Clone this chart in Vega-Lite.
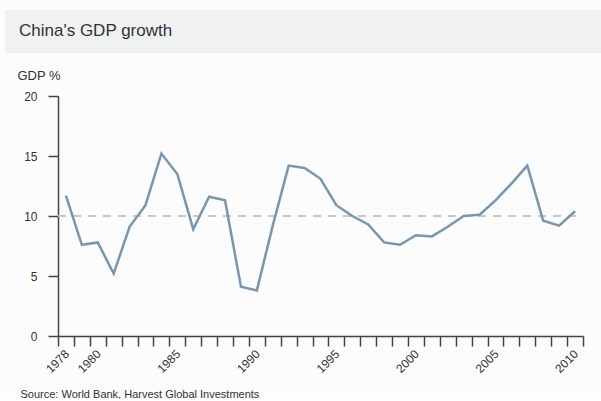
{
  "$schema": "https://vega.github.io/schema/vega-lite/v6.json",
  "background": "#fbfcfb",
  "padding": {"left": 5, "top": 10, "right": 0, "bottom": 0},
  "spacing": 0,
  "config": {
    "view": {"stroke": null},
    "font": "Liberation Sans"
  },
  "vconcat": [
    {
      "width": 596,
      "height": 43,
      "view": {"fill": "#f0f1f1", "stroke": null},
      "title": {
        "text": "China's GDP growth",
        "anchor": "start",
        "frame": "group",
        "orient": "top",
        "offset": -43,
        "dx": 14,
        "baseline": "alphabetic",
        "font": "Liberation Sans",
        "fontSize": 17,
        "fontWeight": "normal",
        "color": "#333333"
      },
      "data": {"values": [{"label": ""}]},
      "mark": {"type": "text"},
      "encoding": {"text": {"field": "label"}}
    },
    {
      "width": 596,
      "height": 283,
      "data": {
        "values": [
          {"year": 1978, "gdp": 11.7},
          {"year": 1979, "gdp": 7.6},
          {"year": 1980, "gdp": 7.8},
          {"year": 1981, "gdp": 5.2},
          {"year": 1982, "gdp": 9.1},
          {"year": 1983, "gdp": 10.9},
          {"year": 1984, "gdp": 15.2},
          {"year": 1985, "gdp": 13.5},
          {"year": 1986, "gdp": 8.9},
          {"year": 1987, "gdp": 11.6},
          {"year": 1988, "gdp": 11.3},
          {"year": 1989, "gdp": 4.1},
          {"year": 1990, "gdp": 3.8},
          {"year": 1991, "gdp": 9.2},
          {"year": 1992, "gdp": 14.2},
          {"year": 1993, "gdp": 14.0},
          {"year": 1994, "gdp": 13.1},
          {"year": 1995, "gdp": 10.9},
          {"year": 1996, "gdp": 10.0},
          {"year": 1997, "gdp": 9.3},
          {"year": 1998, "gdp": 7.8},
          {"year": 1999, "gdp": 7.6},
          {"year": 2000, "gdp": 8.4},
          {"year": 2001, "gdp": 8.3},
          {"year": 2002, "gdp": 9.1},
          {"year": 2003, "gdp": 10.0},
          {"year": 2004, "gdp": 10.1},
          {"year": 2005, "gdp": 11.3},
          {"year": 2006, "gdp": 12.7},
          {"year": 2007, "gdp": 14.2},
          {"year": 2008, "gdp": 9.6},
          {"year": 2009, "gdp": 9.2},
          {"year": 2010, "gdp": 10.4}
        ],
        "format": {"parse": {"year": "date:'%Y'"}}
      },
      "layer": [
        {
          "mark": {"type": "rule", "color": "#c6c8c8", "strokeWidth": 1.2, "strokeDash": [8, 7]},
          "encoding": {
            "y": {"datum": 10, "type": "quantitative"},
            "x": {"datum": {"year": 1978}, "type": "temporal"},
            "x2": {"datum": {"year": 2011}}
          }
        },
        {
          "mark": {"type": "line", "color": "#7d95ab", "strokeWidth": 2.5},
          "encoding": {
            "x": {
              "field": "year",
              "timeUnit": "year",
              "type": "temporal",
              "bandPosition": 0.5,
              "scale": {"domain": [{"year": 1978}, {"year": 2011}], "range": [53, 578], "nice": false},
              "axis": {
                "tickCount": {"interval": "year", "step": 1},
                "labelExpr": "indexof([1978,1980,1985,1990,1995,2000,2005,2010], year(datum.value)) >= 0 ? '' + year(datum.value) : ''",
                "labelAngle": -45,
                "labelAlign": "right",
                "labelBaseline": "top",
                "labelOffset": 5,
                "labelPadding": 2,
                "labelFontSize": 12,
                "labelColor": "#333333",
                "labelOverlap": false,
                "labelFlush": false,
                "grid": false,
                "domainColor": "#444444",
                "domainWidth": 1.5,
                "tickColor": "#444444",
                "tickWidth": 1.5,
                "tickSize": 10,
                "title": "Source: World Bank, Harvest Global Investments",
                "titleX": 15,
                "titleY": 61,
                "titleAlign": "left",
                "titleAnchor": "start",
                "titleBaseline": "alphabetic",
                "titleFontSize": 11,
                "titleFontWeight": "normal",
                "titleColor": "#333333"
              }
            },
            "y": {
              "field": "gdp",
              "type": "quantitative",
              "scale": {"domain": [0, 20], "range": [283, 43], "nice": false},
              "axis": {
                "values": [0, 5, 10, 15, 20],
                "offset": -53,
                "grid": false,
                "labelFontSize": 12,
                "labelColor": "#333333",
                "labelPadding": 11,
                "domainColor": "#444444",
                "domainWidth": 1.5,
                "tickColor": "#444444",
                "tickWidth": 1.5,
                "tickSize": 10,
                "title": "GDP %",
                "titleAngle": 0,
                "titleX": -41,
                "titleY": 26,
                "titleAlign": "left",
                "titleBaseline": "alphabetic",
                "titleFontSize": 13,
                "titleFontWeight": "normal",
                "titleColor": "#333333"
              }
            }
          }
        }
      ]
    }
  ]
}
